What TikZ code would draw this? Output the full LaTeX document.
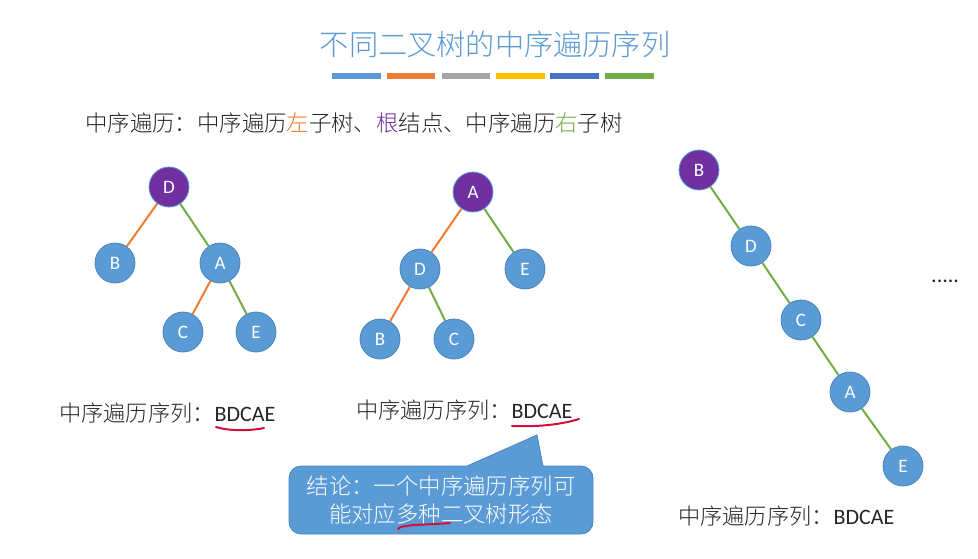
\documentclass[tikz,border=0pt]{standalone}
\usepackage{fontspec}
\setmainfont{Carlito}
\newfontfamily\cjk{Noto Sans CJK SC Light}
\definecolor{nodeblue}{HTML}{5B9BD5}
\definecolor{nodeedge}{HTML}{4A86BE}
\definecolor{rootpurple}{HTML}{7030A0}
\definecolor{leftorange}{HTML}{ED7D31}
\definecolor{rightgreen}{HTML}{70AD47}
\definecolor{titleblue}{HTML}{5B9BD5}
\definecolor{inkred}{HTML}{D0103A}
\definecolor{txt}{HTML}{262626}
\definecolor{bargray}{HTML}{A5A5A5}
\definecolor{baryellow}{HTML}{FFC000}
\definecolor{barblue}{HTML}{4472C4}
\tikzset{
  x=1pt,y=-1pt,
  tn/.style={circle,draw=nodeedge,line width=0.8pt,fill=nodeblue,text=white,minimum size=40pt,inner sep=0pt,font=\fontsize{19}{22}\selectfont},
  rn/.style={tn,fill=rootpurple,draw=nodeblue},
  le/.style={leftorange,line width=2pt},
  re/.style={rightgreen,line width=2pt},
  lbl/.style={anchor=west,inner sep=0pt,text=txt,font=\fontsize{22}{26}\selectfont},
  bar/.style={line width=5.5pt},
  ink/.style={inkred,line width=2pt,line cap=round},
}
\newcommand{\zh}[1]{{\cjk\fontsize{22.2}{26}\selectfont #1}}
\begin{document}
\begin{tikzpicture}
\useasboundingbox (0,0) rectangle (978,558);
\fill[white] (0,0) rectangle (978,558);
\node[inner sep=0pt,text=titleblue] (title) at (495,44) {\cjk\fontsize{29.2}{34}\selectfont 不同二叉树的中序遍历序列};
\draw[bar,color=nodeblue] (332,76) -- (381,76);
\draw[bar,color=leftorange] (387,76) -- (435,76);
\draw[bar,color=bargray] (442,76) -- (490,76);
\draw[bar,color=baryellow] (496,76) -- (545,76);
\draw[bar,color=barblue] (550,76) -- (599,76);
\draw[bar,color=rightgreen] (605,76) -- (654,76);
\node[lbl] (sub) at (85,123) {\cjk\fontsize{22.4}{26}\selectfont 中序遍历：中序遍历\textcolor{leftorange}{左}子树、\textcolor{rootpurple}{根}结点、中序遍历\textcolor{rightgreen}{右}子树};

% tree 1
\node[rn] (d1) at (169,187) {D};
\node[tn] (b1) at (115,263) {B};
\node[tn] (a1) at (220,263) {A};
\node[tn] (c1) at (183,332) {C};
\node[tn] (e1) at (256,332) {E};
\draw[le] (d1) -- (b1);
\draw[re] (d1) -- (a1);
\draw[le] (a1) -- (c1);
\draw[re] (a1) -- (e1);
% tree 2
\node[rn] (a2) at (473,192) {A};
\node[tn] (d2) at (420,269) {D};
\node[tn] (e2) at (525,269) {E};
\node[tn] (b2) at (380,339) {B};
\node[tn] (c2) at (454,339) {C};
\draw[le] (a2) -- (d2);
\draw[re] (a2) -- (e2);
\draw[le] (d2) -- (b2);
\draw[re] (d2) -- (c2);
% tree 3
\node[rn] (b3) at (699,170) {B};
\node[tn] (d3) at (751,246) {D};
\node[tn] (c3) at (801,320) {C};
\node[tn] (a3) at (850,392) {A};
\node[tn] (e3) at (903,466) {E};
\draw[re] (b3) -- (d3);
\draw[re] (d3) -- (c3);
\draw[re] (c3) -- (a3);
\draw[re] (a3) -- (e3);

\node[lbl] (dots) at (931,281) {\fontsize{22}{24}\selectfont .....};

\node[lbl] (s1) at (59,413) {\zh{中序遍历序列：}BDCAE};
\node[lbl] (s2) at (356,410) {\zh{中序遍历序列：}BDCAE};
\node[lbl] (s3) at (678,516) {\zh{中序遍历序列：}BDCAE};

% callout
\fill[nodeblue,draw=nodeedge,line width=0.8pt,rounded corners=0pt]
  (301,466) -- (467,466) -- (537,435) -- (543,466) -- (581,466)
  arc[start angle=-90,end angle=0,radius=12] -- (593,522)
  arc[start angle=0,end angle=90,radius=12] -- (301,534)
  arc[start angle=90,end angle=180,radius=12] -- (289,478)
  arc[start angle=180,end angle=270,radius=12] -- cycle;
\node[inner sep=0pt,text=white,align=center,font=\cjk\fontsize{22.4}{28}\selectfont] (concl) at (441,500) {结论：一个中序遍历序列可\\能对应多种二叉树形态};

% red ink
\draw[ink] (216,427) .. controls (228,431) and (250,431) .. (264,428);
\draw[ink] (512,426) .. controls (535,427) and (560,425) .. (579,419);
\draw[ink] (398,529) .. controls (400,524) and (430,525) .. (450,523);
\end{tikzpicture}
\end{document}
